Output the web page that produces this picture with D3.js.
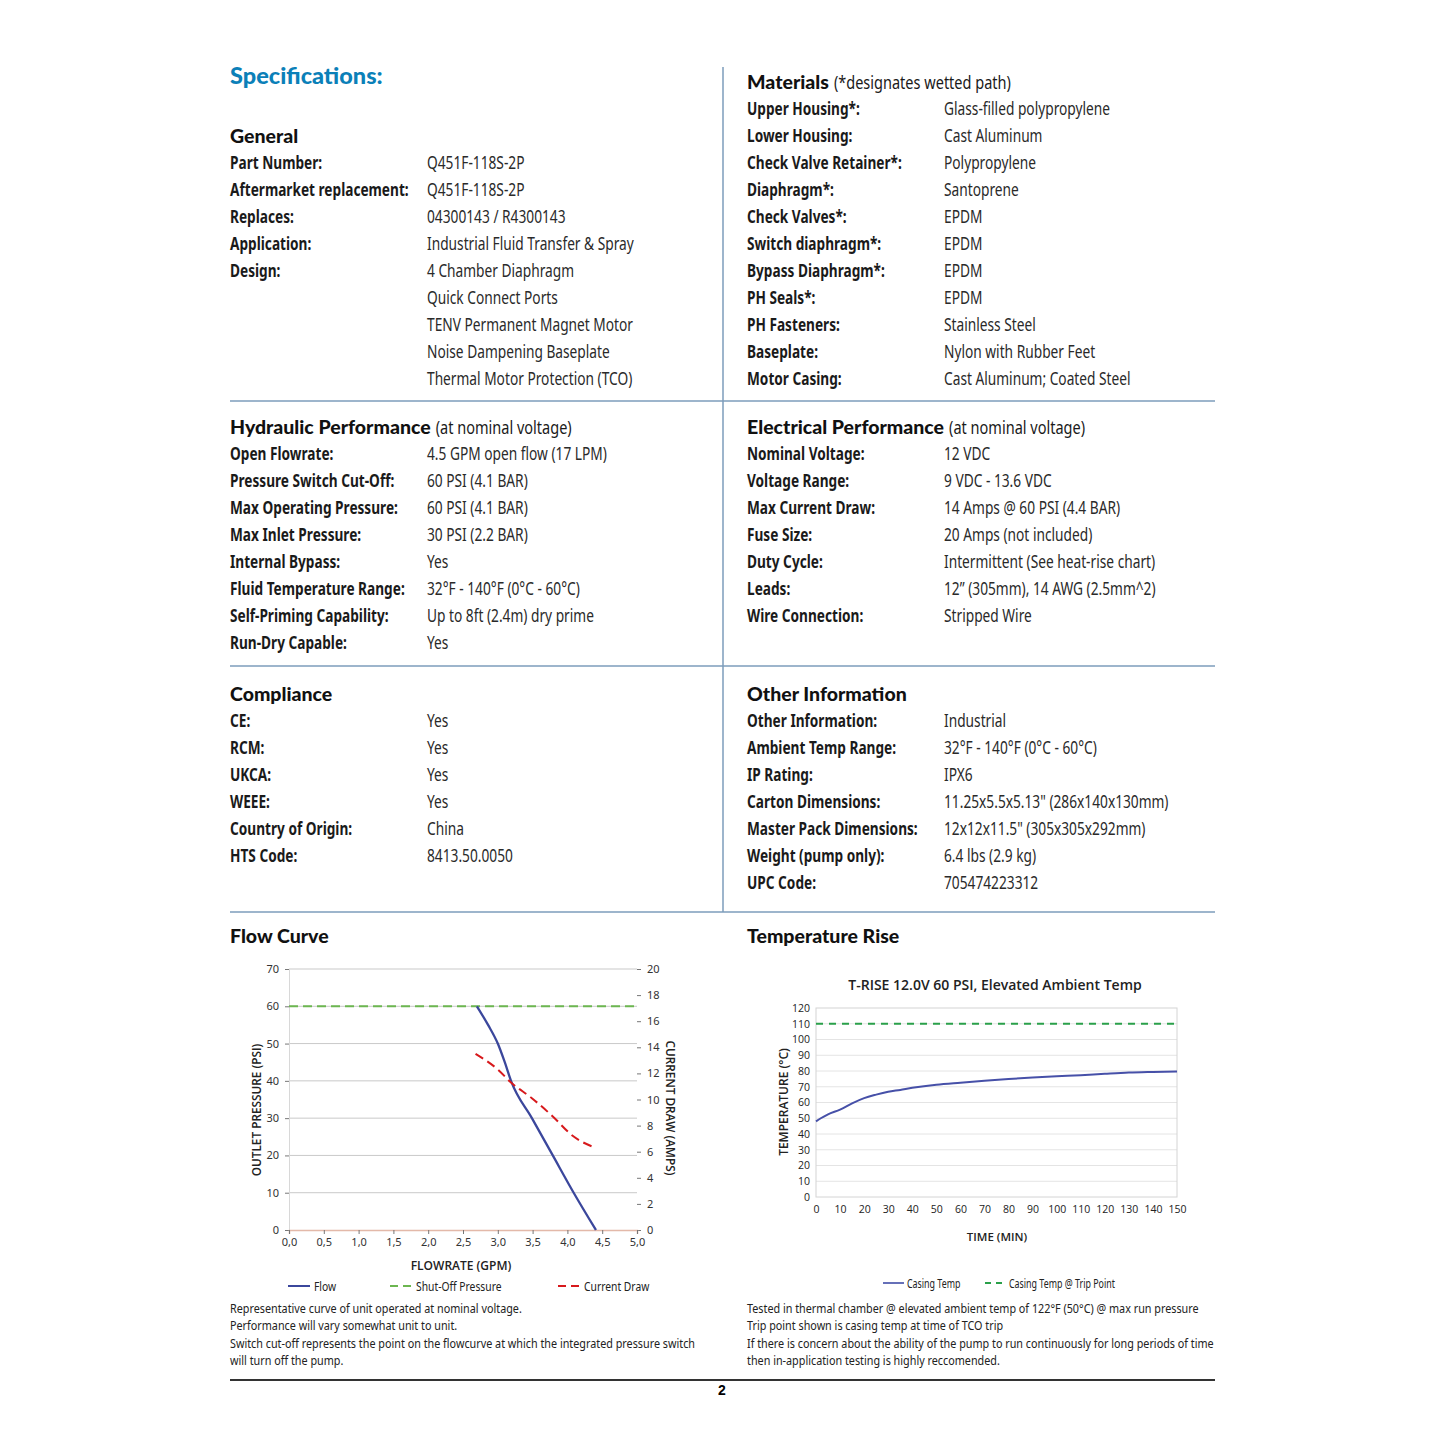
<!DOCTYPE html>
<html>
<head>
<meta charset="utf-8">
<script src="https://cdn.jsdelivr.net/npm/d3@7"></script>
<style>
  body { margin: 0; background: #fff; }
  .lbl { font-family: "Noto Sans", sans-serif; font-weight: bold; font-size: 17.5px; fill: #1a1a1a; }
  .val { font-family: "Noto Sans", sans-serif; font-size: 17.5px; fill: #2a2a2a; }
  .head { font-family: Lato, "Noto Sans", sans-serif; font-weight: 900; font-size: 19.5px; fill: #111; }
  .tick text { font-family: "Noto Sans", sans-serif; font-size: 11px; fill: #333; }
  .tt .tick text { font-family: "Open Sans", sans-serif; font-size: 10.5px; fill: #222; }
  .axt { font-family: "Open Sans", sans-serif; font-weight: 600; fill: #222; }
  .leg { font-family: "Noto Sans", sans-serif; font-size: 12px; fill: #222; }
  .note { font-family: "Noto Sans", sans-serif; font-size: 13.5px; fill: #222; }
</style>
</head>
<body>
<div id="page"></div>
<script>
// Spec tables: [label, value] pairs; empty label means a continuation line.
const generalRows = [
  ['Part Number:', 'Q451F-118S-2P'],
  ['Aftermarket replacement:', 'Q451F-118S-2P'],
  ['Replaces:', '04300143 / R4300143'],
  ['Application:', 'Industrial Fluid Transfer & Spray'],
  ['Design:', '4 Chamber Diaphragm'],
  ['', 'Quick Connect Ports'],
  ['', 'TENV Permanent Magnet Motor'],
  ['', 'Noise Dampening Baseplate'],
  ['', 'Thermal Motor Protection (TCO)']
];
const materialRows = [
  ['Upper Housing*:', 'Glass-filled polypropylene'],
  ['Lower Housing:', 'Cast Aluminum'],
  ['Check Valve Retainer*:', 'Polypropylene'],
  ['Diaphragm*:', 'Santoprene'],
  ['Check Valves*:', 'EPDM'],
  ['Switch diaphragm*:', 'EPDM'],
  ['Bypass Diaphragm*:', 'EPDM'],
  ['PH Seals*:', 'EPDM'],
  ['PH Fasteners:', 'Stainless Steel'],
  ['Baseplate:', 'Nylon with Rubber Feet'],
  ['Motor Casing:', 'Cast Aluminum; Coated Steel']
];
const hydraulicRows = [
  ['Open Flowrate:', '4.5 GPM open flow (17 LPM)'],
  ['Pressure Switch Cut-Off:', '60 PSI (4.1 BAR)'],
  ['Max Operating Pressure:', '60 PSI (4.1 BAR)'],
  ['Max Inlet Pressure:', '30 PSI (2.2 BAR)'],
  ['Internal Bypass:', 'Yes'],
  ['Fluid Temperature Range:', '32°F - 140°F (0°C - 60°C)'],
  ['Self-Priming Capability:', 'Up to 8ft (2.4m) dry prime'],
  ['Run-Dry Capable:', 'Yes']
];
const electricalRows = [
  ['Nominal Voltage:', '12 VDC'],
  ['Voltage Range:', '9 VDC - 13.6 VDC'],
  ['Max Current Draw:', '14 Amps @ 60 PSI (4.4 BAR)'],
  ['Fuse Size:', '20 Amps (not included)'],
  ['Duty Cycle:', 'Intermittent (See heat-rise chart)'],
  ['Leads:', '12” (305mm), 14 AWG (2.5mm^2)'],
  ['Wire Connection:', 'Stripped Wire']
];
const complianceRows = [
  ['CE:', 'Yes'], ['RCM:', 'Yes'], ['UKCA:', 'Yes'], ['WEEE:', 'Yes'],
  ['Country of Origin:', 'China'], ['HTS Code:', '8413.50.0050']
];
const otherRows = [
  ['Other Information:', 'Industrial'],
  ['Ambient Temp Range:', '32°F - 140°F (0°C - 60°C)'],
  ['IP Rating:', 'IPX6'],
  ['Carton Dimensions:', '11.25x5.5x5.13" (286x140x130mm)'],
  ['Master Pack Dimensions:', '12x12x11.5" (305x305x292mm)'],
  ['Weight (pump only):', '6.4 lbs (2.9 kg)'],
  ['UPC Code:', '705474223312']
];

// Flow curve: flowrate (GPM) vs outlet pressure (PSI), current (A) on right axis
const flowGpm = [2.70, 2.86, 3.00, 3.10, 3.19, 3.49, 3.79, 4.09, 4.41];
const flowPsi = [60, 55, 50, 45, 40, 30, 20, 10, 0];
const currentGpm = [2.68, 3.00, 3.19, 3.49, 3.79, 4.08, 4.40];
const currentAmps = [13.5, 12.3, 11.3, 10.1, 8.7, 7.2, 6.3];
const shutOffPsi = 60;
const flowXTicks = [0, 0.5, 1, 1.5, 2, 2.5, 3, 3.5, 4, 4.5, 5];

// Temperature rise: time (min) vs casing temp (°C)
const riseMin = [0, 2, 5, 10, 15, 20, 25, 30, 35, 40, 50, 60, 70, 80, 90, 100, 110, 120, 130, 140, 150];
const riseTemp = [48, 50, 52.5, 55.5, 59.5, 62.8, 65, 66.8, 68, 69.3, 71.3, 72.6, 73.8, 74.9, 75.8, 76.6, 77.3, 78.2, 79, 79.4, 79.7];
const tripTemp = 110;

const flowNotes = [
  'Representative curve of unit operated at nominal voltage.',
  'Performance will vary somewhat unit to unit.',
  'Switch cut-off represents the point on the flowcurve at which the integrated pressure switch',
  'will turn off the pump.'
];
const tempNotes = [
  'Tested in thermal chamber @ elevated ambient temp of 122°F (50°C) @ max run pressure',
  'Trip point shown is casing temp at time of TCO trip',
  'If there is concern about the ability of the pump to run continuously for long periods of time',
  'then in-application testing is highly reccomended.'
];

const svg = d3.select('#page').append('svg').attr('width', 1445).attr('height', 1445);
const BLUE = '#3b479c', GREEN = '#6cb650', RED = '#d7191c', RULE = '#7d9dbb';
const NARROW = 0.785; // no condensed face installed, so squeeze horizontally

// Text squeezed horizontally around its own x position.
function ctext(parent, x, y, str, cls, sx) {
  return parent.append('text').attr('class', cls)
    .attr('transform', `translate(${x},${y}) scale(${sx},1)`)
    .attr('dominant-baseline', 'central').text(str);
}

svg.append('text').attr('x', 230).attr('y', 75).attr('dominant-baseline', 'central')
  .attr('font-family', 'Lato, "Noto Sans", sans-serif').attr('font-weight', 900)
  .attr('font-size', 23.5).attr('fill', '#0b80b8').text('Specifications:');

function section(x, y, title, subtitle, rows) {
  const t = svg.append('text').attr('class', 'head').attr('x', x).attr('y', y).attr('dominant-baseline', 'central').text(title);
  if (subtitle) {
    const w = t.node().getComputedTextLength();
    ctext(svg, x + w + 5, y + 1, subtitle, 'val', 0.83).style('fill', '#1a1a1a');
  }
  rows.forEach((r, i) => {
    const yy = y + 27 * (i + 1);
    if (r[0]) ctext(svg, x, yy, r[0], 'lbl', 0.78);
    ctext(svg, x + 197, yy, r[1], 'val', NARROW);
  });
}
section(230, 135, 'General', null, generalRows);
section(747, 81, 'Materials', '(*designates wetted path)', materialRows);
section(230, 426, 'Hydraulic Performance', '(at nominal voltage)', hydraulicRows);
section(747, 426, 'Electrical Performance', '(at nominal voltage)', electricalRows);
section(230, 693, 'Compliance', null, complianceRows);
section(747, 693, 'Other Information', null, otherRows);

// Rules
svg.append('line').attr('x1', 723).attr('x2', 723).attr('y1', 67).attr('y2', 912).attr('stroke', RULE).attr('stroke-width', 1.5);
[401, 666, 912].forEach(y => svg.append('line').attr('x1', 230).attr('x2', 1215).attr('y1', y).attr('y2', y).attr('stroke', RULE).attr('stroke-width', 1.5));
svg.append('line').attr('x1', 230).attr('x2', 1215).attr('y1', 1380).attr('y2', 1380).attr('stroke', '#333').attr('stroke-width', 2);
svg.append('text').attr('x', 722).attr('y', 1390).attr('dominant-baseline', 'central').attr('text-anchor', 'middle')
  .attr('font-family', 'Liberation Sans, Arial, sans-serif').attr('font-weight', 'bold').attr('font-size', 14).text('2');

svg.append('text').attr('class', 'head').attr('x', 230).attr('y', 935).attr('dominant-baseline', 'central').text('Flow Curve');
svg.append('text').attr('class', 'head').attr('x', 747).attr('y', 935).attr('dominant-baseline', 'central').text('Temperature Rise');

// ---------- Flow curve ----------
const fx = d3.scaleLinear().domain([0, 5]).range([289, 637]);
const fyL = d3.scaleLinear().domain([0, 70]).range([1230, 969]);
const fyR = d3.scaleLinear().domain([0, 20]).range([1230, 969]);
const fg = svg.append('g');

fg.selectAll('line.grid').data(d3.range(10, 71, 10)).enter().append('line')
  .attr('x1', fx(0)).attr('x2', fx(5)).attr('y1', d => fyL(d)).attr('y2', d => fyL(d))
  .attr('stroke', '#c9c9c9').attr('stroke-width', 1);

fg.append('g').attr('transform', `translate(${fx(0)},0)`)
  .call(d3.axisLeft(fyL).tickValues(d3.range(0, 71, 10)).tickSize(4).tickPadding(6))
  .call(g => g.select('.domain').attr('stroke', '#d8d8d8'))
  .call(g => g.selectAll('.tick line').attr('stroke', '#777'));
fg.append('g').attr('transform', `translate(${fx(5)},0)`)
  .call(d3.axisRight(fyR).tickValues(d3.range(0, 21, 2)).tickSize(4).tickPadding(6))
  .call(g => g.select('.domain').remove())
  .call(g => g.selectAll('.tick line').attr('stroke', '#777'));
fg.append('g').attr('transform', `translate(0,${fyL(0)})`)
  .call(d3.axisBottom(fx).tickValues(flowXTicks).tickSize(4).tickPadding(4).tickFormat(d => d.toFixed(1).replace('.', ',')))
  .call(g => g.select('.domain').attr('stroke', '#e3b9a9').attr('stroke-width', 1.5))
  .call(g => g.selectAll('.tick line').attr('stroke', '#777'));

fg.append('line').attr('x1', fx(0)).attr('x2', fx(5)).attr('y1', fyL(shutOffPsi)).attr('y2', fyL(shutOffPsi))
  .attr('stroke', GREEN).attr('stroke-width', 2).attr('stroke-dasharray', '9,5');

const flowPts = flowGpm.map((g, i) => [g, flowPsi[i]]);
fg.append('path').datum(flowPts).attr('fill', 'none').attr('stroke', BLUE).attr('stroke-width', 2.3)
  .attr('d', d3.line().x(d => fx(d[0])).y(d => fyL(d[1])).curve(d3.curveMonotoneX));
const curPts = currentGpm.map((g, i) => [g, currentAmps[i]]);
fg.append('path').datum(curPts).attr('fill', 'none').attr('stroke', RED).attr('stroke-width', 2)
  .attr('stroke-dasharray', '9,5')
  .attr('d', d3.line().x(d => fx(d[0])).y(d => fyR(d[1])).curve(d3.curveMonotoneX));

fg.append('text').attr('class', 'axt').attr('font-size', 12).attr('text-anchor', 'middle').attr('x', 461).attr('y', 1265)
  .attr('dominant-baseline', 'central').text('FLOWRATE (GPM)');
fg.append('text').attr('class', 'axt').attr('font-size', 11.8).attr('text-anchor', 'middle').attr('dominant-baseline', 'central')
  .attr('transform', 'translate(256,1110) rotate(-90)').text('OUTLET PRESSURE (PSI)');
fg.append('text').attr('class', 'axt').attr('font-size', 11.8).attr('text-anchor', 'middle').attr('dominant-baseline', 'central')
  .attr('transform', 'translate(671,1108) rotate(90)').text('CURRENT DRAW (AMPS)');

const flowLegend = [
  { x: 288, label: 'Flow', color: BLUE, dash: null },
  { x: 390, label: 'Shut-Off Pressure', color: GREEN, dash: '8,5' },
  { x: 558, label: 'Current Draw', color: RED, dash: '8,5' }
];
flowLegend.forEach(l => {
  fg.append('line').attr('x1', l.x).attr('x2', l.x + 22).attr('y1', 1286).attr('y2', 1286)
    .attr('stroke', l.color).attr('stroke-width', 2).attr('stroke-dasharray', l.dash);
  ctext(fg, l.x + 26, 1286, l.label, 'leg', 0.86);
});

// ---------- Temperature rise ----------
const tx = d3.scaleLinear().domain([0, 150]).range([816, 1177]);
const ty = d3.scaleLinear().domain([0, 120]).range([1197, 1008]);
const tg = svg.append('g').attr('class', 'tt');

tg.append('text').attr('x', 995).attr('y', 984).attr('text-anchor', 'middle').attr('dominant-baseline', 'central')
  .attr('font-family', '"Open Sans", sans-serif').attr('font-weight', 600).attr('font-size', 14).attr('fill', '#222')
  .text('T-RISE 12.0V 60 PSI, Elevated Ambient Temp');

tg.selectAll('line.grid').data(d3.range(10, 120, 10)).enter().append('line')
  .attr('x1', tx(0)).attr('x2', tx(150)).attr('y1', d => ty(d)).attr('y2', d => ty(d))
  .attr('stroke', '#e4e4e4').attr('stroke-width', 1);
tg.append('rect').attr('x', tx(0)).attr('y', ty(120)).attr('width', tx(150) - tx(0)).attr('height', ty(0) - ty(120))
  .attr('fill', 'none').attr('stroke', '#d4d4d4');

tg.append('g').attr('transform', `translate(${tx(0)},0)`)
  .call(d3.axisLeft(ty).tickValues(d3.range(0, 121, 10)).tickSize(0).tickPadding(6))
  .call(g => g.select('.domain').remove());
tg.append('g').attr('transform', `translate(0,${ty(0)})`)
  .call(d3.axisBottom(tx).tickValues(d3.range(0, 151, 10)).tickSize(0).tickPadding(9))
  .call(g => g.select('.domain').remove());

tg.append('line').attr('x1', tx(0)).attr('x2', tx(150)).attr('y1', ty(tripTemp)).attr('y2', ty(tripTemp))
  .attr('stroke', '#2aa04a').attr('stroke-width', 2).attr('stroke-dasharray', '7,6');
const risePts = riseMin.map((m, i) => [m, riseTemp[i]]);
tg.append('path').datum(risePts).attr('fill', 'none').attr('stroke', '#4650a8').attr('stroke-width', 2)
  .attr('d', d3.line().x(d => tx(d[0])).y(d => ty(d[1])).curve(d3.curveMonotoneX));

tg.append('text').attr('class', 'axt').attr('font-size', 11.5).attr('text-anchor', 'middle').attr('x', 997).attr('y', 1236)
  .attr('dominant-baseline', 'central').text('TIME (MIN)');
tg.append('text').attr('class', 'axt').attr('font-size', 12).attr('text-anchor', 'middle').attr('dominant-baseline', 'central')
  .attr('transform', 'translate(783,1102) rotate(-90)').text('TEMPERATURE (°C)');

const tempLegend = [
  { x: 883, label: 'Casing Temp', color: '#6670b8', dash: null },
  { x: 985, label: 'Casing Temp @ Trip Point', color: '#2aa04a', dash: '6,5' }
];
tempLegend.forEach(l => {
  tg.append('line').attr('x1', l.x).attr('x2', l.x + 21).attr('y1', 1283).attr('y2', 1283)
    .attr('stroke', l.color).attr('stroke-width', 2).attr('stroke-dasharray', l.dash);
  ctext(tg, l.x + 24, 1283, l.label, 'leg', 0.74).attr('font-size', 11.5);
});

// Notes
flowNotes.forEach((t, i) => ctext(svg, 230, 1308 + 17.5 * i, t, 'note', 0.8));
tempNotes.forEach((t, i) => ctext(svg, 747, 1308 + 17.5 * i, t, 'note', 0.8));
</script>
</body>
</html>
